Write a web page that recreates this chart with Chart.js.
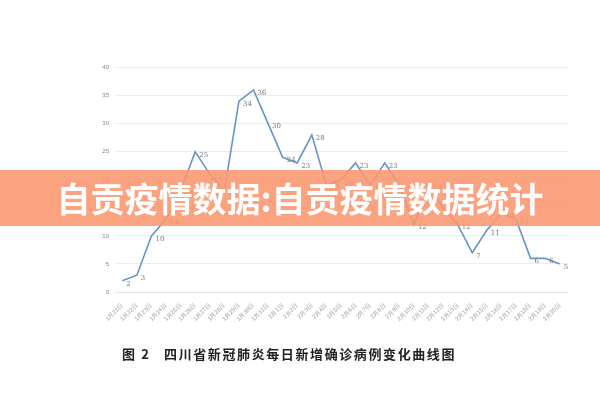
<!DOCTYPE html>
<html>
<head>
<meta charset="utf-8">
<script src="https://cdn.jsdelivr.net/npm/chart.js@4/dist/chart.umd.min.js"></script>
<style>
  html, body { margin: 0; padding: 0; background: #fff; }
  #wrap { position: relative; width: 600px; height: 400px; overflow: hidden; }
  #banner {
    position: absolute; left: 0; top: 170px; width: 600px; height: 56px;
    background: rgba(250, 150, 110, 0.88);
    color: #fff; font: bold 34px "Noto Sans CJK SC", sans-serif;
    text-align: center; line-height: 56px;
  }
  #caption {
    position: absolute; left: 122px; top: 344px;
    font: bold 13px "Noto Sans CJK SC", serif; color: #222;
    white-space: pre; letter-spacing: 1.6px;
  }
</style>
</head>
<body>
<div id="wrap">
  <canvas id="grafico" width="600" height="400"></canvas>
  <div id="banner">自贡疫情数据:自贡疫情数据统计</div>
  <div id="caption">图 2   四川省新冠肺炎每日新增确诊病例变化曲线图</div>
</div>
<script>
// fechas y casos nuevos por dia
var fechas = ['1月21日','1月22日','1月23日','1月24日','1月25日','1月26日','1月27日','1月28日',
  '1月29日','1月30日','1月31日','2月1日','2月2日','2月3日','2月4日','2月5日','2月6日','2月7日',
  '2月8日','2月9日','2月10日','2月11日','2月12日','2月13日','2月14日','2月15日','2月16日',
  '2月17日','2月18日','2月19日','2月20日'];
var nuevos = [2, 3, 10, 13, 18, 25, 21, 18, 34, 36, 30, 24, 23, 28, 19, 20, 23, 19, 23, 19,
  12, 19, 15, 12, 7, 11, 14, 13, 6, 6, 5];
var ticksY = [0, 5, 10, 15, 20, 25, 30, 35, 40];

// etiquetas junto a cada punto
const etiquetas = {
  id: 'etiquetas',
  afterDatasetsDraw(chart) {
    const ctx = chart.ctx;
    const meta = chart.getDatasetMeta(0);
    ctx.save();
    ctx.font = '7px "DejaVu Serif", serif';
    ctx.fillStyle = '#777';
    ctx.textBaseline = 'middle';
    meta.data.forEach((p, i) => {
      ctx.fillText(String(nuevos[i]), p.x + 4, p.y + 3);
    });
    ctx.restore();
  }
};

new Chart(document.getElementById('grafico'), {
  type: 'line',
  data: {
    labels: fechas,
    datasets: [{
      data: nuevos,
      borderColor: '#6594c8',
      borderWidth: 1.6,
      pointRadius: 0,
      tension: 0,
      fill: false
    }]
  },
  options: {
    responsive: false,
    animation: false,
    layout: { padding: { left: 0, right: 33, top: 67.5, bottom: 0 } },
    plugins: {
      legend: { display: false },
      title: { display: false },
      tooltip: { enabled: false }
    },
    scales: {
      x: {
        offset: true,
        grid: { display: false },
        border: { color: '#e4e4e4' },
        ticks: {
          color: '#999', font: { size: 6 },
          maxRotation: 45, minRotation: 45, autoSkip: false, padding: 2
        },
        afterFit(scale) { scale.height = 108; }
      },
      y: {
        min: 0, max: 40,
        afterBuildTicks(scale) { scale.ticks = ticksY.map(v => ({ value: v })); },
        grid: { color: '#ececec', drawTicks: false },
        border: { display: false },
        ticks: { color: '#888', font: { size: 6 }, padding: 6 },
        afterFit(scale) { scale.width = 115; }
      }
    }
  },
  plugins: [etiquetas]
});
</script>
</body>
</html>
